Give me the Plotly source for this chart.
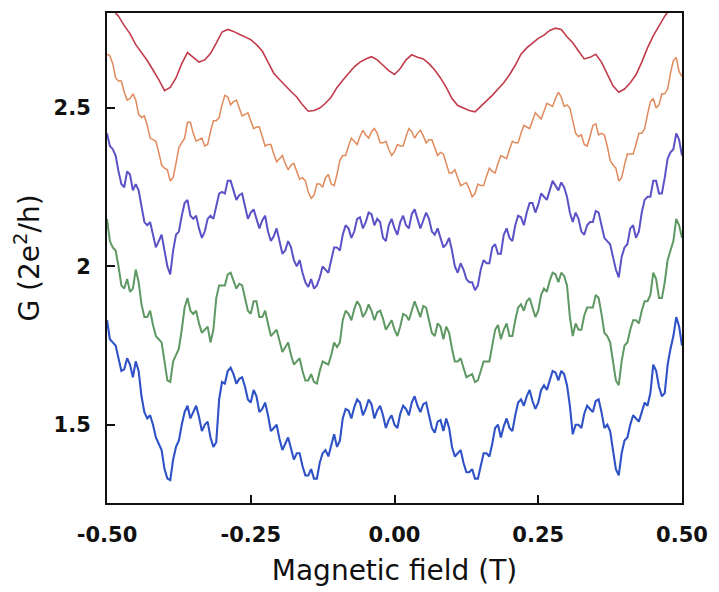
import plotly.graph_objects as go

# Magnetic field sweeps (T): coarse grid for the smooth top trace,
# 0.005 T grid for the noisier traces
field_coarse = [round(-0.50 + 0.01 * i, 3) for i in range(101)]
field_fine = [round(-0.50 + 0.005 * i, 3) for i in range(201)]

# Conductance traces in units of 2e^2/h, top to bottom
g_red = [
    2.83, 2.81, 2.79, 2.76, 2.735, 2.70, 2.675, 2.65, 2.62, 2.59,
    2.555, 2.565, 2.595, 2.64, 2.675, 2.66, 2.645, 2.652, 2.672, 2.705,
    2.74, 2.748, 2.742, 2.733, 2.725, 2.716, 2.70, 2.68, 2.645, 2.61,
    2.59, 2.57, 2.552, 2.535, 2.51, 2.49, 2.492, 2.50, 2.515, 2.535,
    2.565, 2.588, 2.61, 2.63, 2.645, 2.655, 2.662, 2.652, 2.635, 2.618,
    2.606,
    2.625, 2.652, 2.668, 2.66, 2.655, 2.64, 2.62, 2.595, 2.565, 2.53,
    2.508, 2.50, 2.492, 2.488, 2.505, 2.522, 2.54, 2.56, 2.58, 2.605,
    2.635, 2.67, 2.69, 2.705, 2.72, 2.73, 2.745, 2.752, 2.748, 2.725,
    2.706, 2.68, 2.655, 2.66, 2.67, 2.645, 2.605, 2.57, 2.55, 2.56,
    2.58, 2.605, 2.645, 2.69, 2.728, 2.76, 2.79, 2.815, 2.84, 2.87,
]

g_orange = [
    2.67, 2.665, 2.64, 2.595, 2.585, 2.585, 2.55, 2.525, 2.53, 2.545, 2.525, 2.48, 2.47, 2.475, 2.445, 2.405, 2.40, 2.395, 2.36, 2.32,
    2.31, 2.305, 2.27, 2.28, 2.325, 2.375, 2.39, 2.405, 2.455, 2.455, 2.42, 2.395, 2.40, 2.405, 2.38, 2.385, 2.425, 2.46, 2.46, 2.47,
    2.51, 2.54, 2.535, 2.51, 2.52, 2.525, 2.50, 2.475, 2.48, 2.485, 2.46, 2.435, 2.44, 2.44, 2.41, 2.38, 2.385, 2.385, 2.355, 2.33,
    2.34, 2.35, 2.325, 2.305, 2.32, 2.325, 2.30, 2.275, 2.28, 2.27, 2.235, 2.215, 2.225, 2.26, 2.26, 2.25, 2.28, 2.29, 2.26, 2.255,
    2.29, 2.335, 2.35, 2.35, 2.38, 2.405, 2.395, 2.385, 2.41, 2.43, 2.415, 2.405, 2.425, 2.435, 2.42, 2.39, 2.39, 2.395, 2.37, 2.35,
    2.362, 2.385, 2.38, 2.38, 2.41, 2.435, 2.425, 2.405, 2.42, 2.43, 2.412, 2.39, 2.40, 2.40, 2.375, 2.35, 2.36, 2.355, 2.325, 2.295,
    2.295, 2.305, 2.28, 2.255, 2.26, 2.265, 2.245, 2.22, 2.23, 2.26, 2.255, 2.255, 2.285, 2.31, 2.30, 2.295, 2.325, 2.35, 2.345, 2.34,
    2.37, 2.395, 2.39, 2.39, 2.42, 2.445, 2.44, 2.435, 2.46, 2.485, 2.475, 2.465, 2.49, 2.515, 2.51, 2.505, 2.53, 2.55, 2.535, 2.505,
    2.51, 2.50, 2.46, 2.42, 2.41, 2.415, 2.385, 2.38, 2.41, 2.445, 2.45, 2.415, 2.42, 2.415, 2.38, 2.335, 2.32, 2.31, 2.27, 2.28,
    2.32, 2.355, 2.355, 2.355, 2.385, 2.42, 2.42, 2.435, 2.48, 2.52, 2.53, 2.50, 2.51, 2.545, 2.545, 2.56, 2.61, 2.65, 2.66, 2.615,
    2.60,
]

g_purple = [
    2.42, 2.38, 2.37, 2.35, 2.30, 2.26, 2.25, 2.30, 2.29, 2.24, 2.26, 2.24, 2.19, 2.14, 2.13, 2.14, 2.10, 2.06, 2.08, 2.10,
    2.05, 2.00, 1.975, 2.05, 2.10, 2.11, 2.16, 2.20, 2.21, 2.16, 2.15, 2.16, 2.12, 2.09, 2.11, 2.15, 2.16, 2.15, 2.19, 2.23,
    2.235, 2.23, 2.27, 2.27, 2.24, 2.21, 2.225, 2.23, 2.19, 2.15, 2.17, 2.18, 2.15, 2.12, 2.145, 2.16, 2.11, 2.08, 2.095, 2.12,
    2.08, 2.04, 2.05, 2.08, 2.06, 2.02, 2.00, 2.02, 1.98, 1.95, 1.935, 1.96, 1.93, 1.94, 1.965, 2.00, 1.99, 1.98, 2.02, 2.06,
    2.06, 2.05, 2.10, 2.13, 2.12, 2.09, 2.11, 2.15, 2.155, 2.12, 2.14, 2.17, 2.165, 2.13, 2.15, 2.14, 2.09, 2.08, 2.13, 2.15,
    2.12, 2.10, 2.14, 2.16, 2.13, 2.12, 2.165, 2.18, 2.15, 2.12, 2.145, 2.17, 2.15, 2.11, 2.10, 2.12, 2.09, 2.06, 2.07, 2.09,
    2.05, 2.00, 1.98, 2.01, 1.99, 1.96, 1.95, 1.95, 1.925, 1.94, 1.99, 2.02, 2.01, 2.01, 2.06, 2.07, 2.04, 2.04, 2.10, 2.12,
    2.09, 2.08, 2.13, 2.16, 2.155, 2.13, 2.17, 2.20, 2.20, 2.17, 2.195, 2.23, 2.22, 2.21, 2.24, 2.27, 2.255, 2.24, 2.265, 2.25,
    2.22, 2.17, 2.14, 2.17, 2.15, 2.11, 2.10, 2.13, 2.14, 2.14, 2.175, 2.17, 2.13, 2.09, 2.08, 2.07, 2.03, 1.99, 1.965, 2.03,
    2.06, 2.07, 2.12, 2.13, 2.09, 2.11, 2.17, 2.21, 2.22, 2.22, 2.27, 2.27, 2.23, 2.23, 2.28, 2.34, 2.36, 2.37, 2.42, 2.40,
    2.35,
]

g_green = [
    2.15, 2.08, 2.06, 2.05, 2.00, 1.94, 1.93, 1.96, 1.92, 1.93, 1.99, 1.95, 1.88, 1.84, 1.84, 1.86, 1.815, 1.78, 1.77, 1.76,
    1.70, 1.64, 1.635, 1.70, 1.72, 1.74, 1.80, 1.87, 1.90, 1.86, 1.85, 1.86, 1.82, 1.79, 1.80, 1.81, 1.76, 1.80, 1.90, 1.94,
    1.94, 1.94, 1.975, 1.98, 1.955, 1.93, 1.945, 1.94, 1.90, 1.86, 1.85, 1.89, 1.89, 1.84, 1.84, 1.86, 1.82, 1.78, 1.79, 1.80,
    1.765, 1.73, 1.745, 1.76, 1.72, 1.69, 1.70, 1.71, 1.67, 1.64, 1.64, 1.66, 1.635, 1.63, 1.67, 1.70, 1.695, 1.69, 1.72, 1.76,
    1.745, 1.76, 1.83, 1.86, 1.85, 1.83, 1.865, 1.89, 1.875, 1.84, 1.855, 1.88, 1.86, 1.83, 1.855, 1.86, 1.835, 1.80, 1.815, 1.83,
    1.80, 1.78, 1.81, 1.85, 1.845, 1.83, 1.86, 1.89, 1.865, 1.84, 1.875, 1.87, 1.83, 1.79, 1.78, 1.82, 1.81, 1.77, 1.81, 1.79,
    1.74, 1.70, 1.70, 1.71, 1.68, 1.65, 1.655, 1.66, 1.635, 1.64, 1.67, 1.70, 1.70, 1.70, 1.75, 1.80, 1.815, 1.77, 1.80, 1.82,
    1.78, 1.78, 1.83, 1.87, 1.88, 1.86, 1.89, 1.90, 1.87, 1.84, 1.86, 1.91, 1.93, 1.92, 1.955, 1.98, 1.975, 1.95, 1.98, 1.97,
    1.94, 1.84, 1.78, 1.82, 1.80, 1.80, 1.845, 1.87, 1.87, 1.87, 1.91, 1.90, 1.85, 1.79, 1.78, 1.76, 1.70, 1.64, 1.625, 1.70,
    1.75, 1.76, 1.80, 1.83, 1.83, 1.82, 1.86, 1.89, 1.89, 1.91, 1.98, 1.96, 1.90, 1.90, 1.95, 2.02, 2.05, 2.08, 2.15, 2.13,
    2.09,
]

g_blue = [
    1.83, 1.77, 1.76, 1.75, 1.71, 1.67, 1.675, 1.71, 1.69, 1.65, 1.70, 1.67, 1.59, 1.54, 1.52, 1.53, 1.50, 1.46, 1.44, 1.42,
    1.36, 1.33, 1.325, 1.39, 1.43, 1.45, 1.50, 1.54, 1.56, 1.52, 1.54, 1.56, 1.525, 1.48, 1.50, 1.51, 1.46, 1.43, 1.445, 1.58,
    1.635, 1.63, 1.67, 1.68, 1.66, 1.63, 1.645, 1.65, 1.62, 1.58, 1.57, 1.61, 1.59, 1.54, 1.55, 1.57, 1.53, 1.48, 1.49, 1.50,
    1.455, 1.42, 1.44, 1.46, 1.425, 1.39, 1.41, 1.41, 1.37, 1.34, 1.34, 1.36, 1.33, 1.33, 1.38, 1.41, 1.42, 1.40, 1.435, 1.47,
    1.43, 1.45, 1.52, 1.55, 1.545, 1.52, 1.555, 1.58, 1.57, 1.53, 1.55, 1.58, 1.565, 1.52, 1.545, 1.56, 1.53, 1.49, 1.515, 1.53,
    1.50, 1.49, 1.535, 1.56, 1.55, 1.53, 1.57, 1.59, 1.56, 1.54, 1.565, 1.57, 1.53, 1.49, 1.475, 1.51, 1.515, 1.48, 1.52, 1.49,
    1.43, 1.40, 1.41, 1.42, 1.38, 1.35, 1.35, 1.36, 1.33, 1.33, 1.37, 1.41, 1.41, 1.40, 1.44, 1.49, 1.50, 1.46, 1.495, 1.52,
    1.49, 1.48, 1.53, 1.57, 1.58, 1.56, 1.59, 1.61, 1.575, 1.55, 1.57, 1.61, 1.625, 1.61, 1.64, 1.67, 1.665, 1.64, 1.67, 1.66,
    1.625, 1.56, 1.47, 1.50, 1.50, 1.49, 1.535, 1.56, 1.55, 1.54, 1.575, 1.58, 1.54, 1.49, 1.50, 1.48, 1.42, 1.36, 1.34, 1.41,
    1.45, 1.46, 1.50, 1.53, 1.52, 1.51, 1.54, 1.57, 1.56, 1.60, 1.69, 1.67, 1.62, 1.59, 1.60, 1.69, 1.74, 1.78, 1.84, 1.81,
    1.75,
]

x_ticks = [-0.50, -0.25, 0.00, 0.25, 0.50]
x_tick_text = ["-0.50", "-0.25", "0.00", "0.25", "0.50"]
y_ticks = [1.5, 2.0, 2.5]
y_tick_text = ["1.5", "2", "2.5"]

traces = [
    (field_coarse, g_red, "#c23b4b", 1.6),
    (field_fine, g_orange, "#e08a5c", 1.5),
    (field_fine, g_purple, "#5a52c6", 2.0),
    (field_fine, g_green, "#5e9863", 2.0),
    (field_fine, g_blue, "#2f52c6", 2.1),
]

fig = go.Figure()
for xs, values, color, width in traces:
    fig.add_trace(go.Scatter(
        x=xs, y=values, mode="lines",
        line=dict(color=color, width=width),
        showlegend=False, hoverinfo="skip",
    ))

tick_font = dict(family="DejaVu Sans", size=21, color="#111111", weight="bold")
title_font = dict(family="DejaVu Sans", size=28, color="#111111")

fig.update_layout(
    width=719, height=592,
    margin=dict(l=107, r=32, t=11, b=87),
    paper_bgcolor="white", plot_bgcolor="white",
    xaxis=dict(
        range=[-0.5, 0.5], tickvals=x_ticks, ticktext=x_tick_text,
        ticks="inside", ticklen=8, tickwidth=2, tickcolor="#111111",
        showline=True, linecolor="#111111", linewidth=2, mirror=True,
        showgrid=False, zeroline=False,
        tickfont=tick_font, ticklabelstandoff=12,
        title=dict(text="Magnetic field (T)", font=title_font, standoff=14),
    ),
    yaxis=dict(
        range=[1.253, 2.8], tickvals=y_ticks, ticktext=y_tick_text,
        ticks="inside", ticklen=8, tickwidth=2, tickcolor="#111111",
        showline=True, linecolor="#111111", linewidth=2, mirror=True,
        showgrid=False, zeroline=False,
        tickfont=tick_font, ticklabelstandoff=10,
        title=dict(text="G (2e<sup>2</sup>/h)", font=title_font, standoff=6),
    ),
)

fig.write_html("out.html")
